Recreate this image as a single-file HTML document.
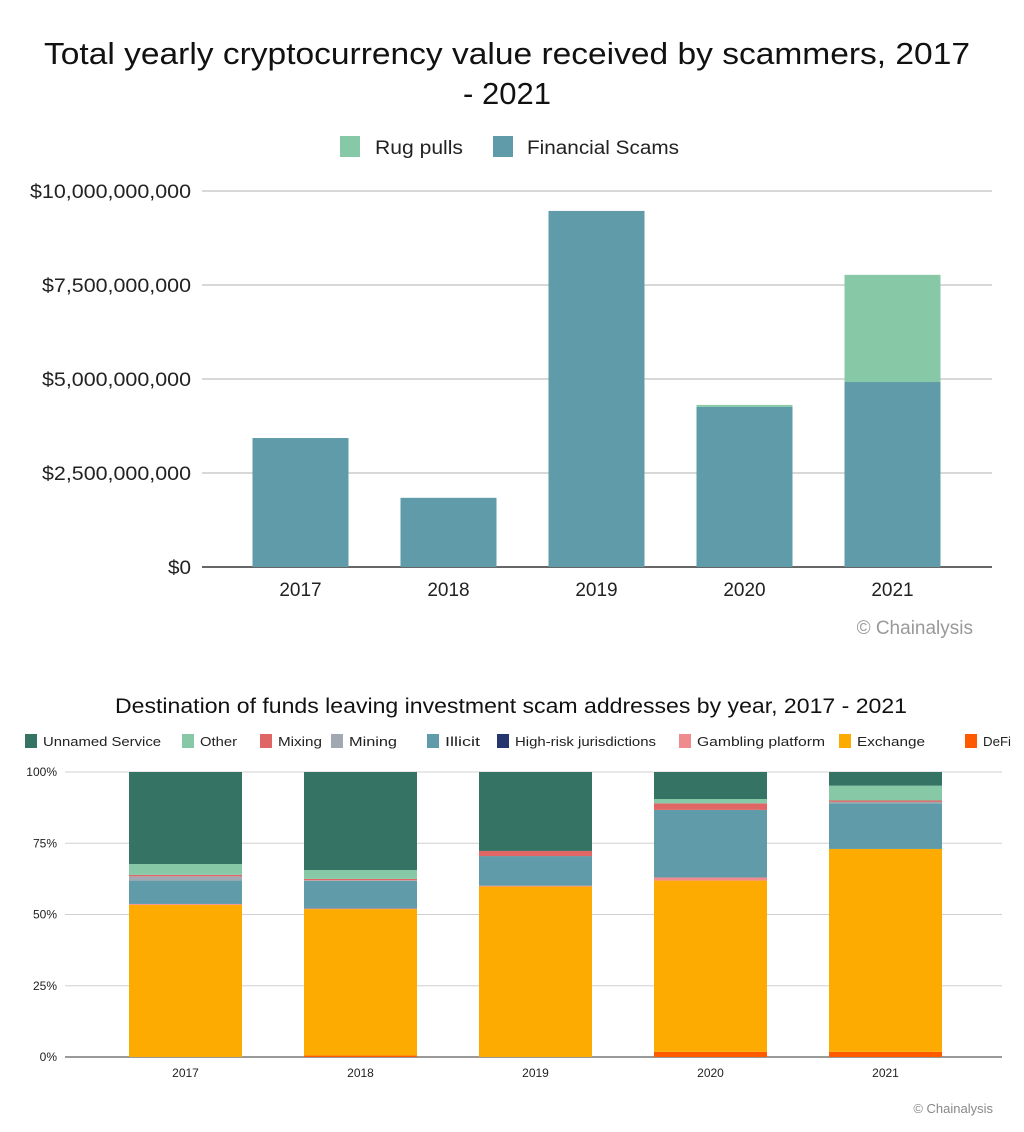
<!DOCTYPE html>
<html><head><meta charset="utf-8"><style>
body{margin:0;background:#fff;width:1024px;height:1132px;overflow:hidden}
svg{display:block;font-family:"Liberation Sans",sans-serif}
</style></head><body>
<svg id="s" width="1024" height="1132">
<g id="top">
<text x="507" y="64" text-anchor="middle" font-size="31" fill="#111" textLength="926" lengthAdjust="spacingAndGlyphs">Total yearly cryptocurrency value received by scammers, 2017</text>
<text x="507" y="104" text-anchor="middle" font-size="31" fill="#111">- 2021</text>
<g><rect x="340" y="136" width="20" height="21" fill="#87c9a6"/><text x="375" y="154" font-size="19" fill="#222" textLength="88" lengthAdjust="spacingAndGlyphs">Rug pulls</text></g>
<g><rect x="493" y="136" width="20" height="21" fill="#5f9ba8"/><text x="527" y="154" font-size="19" fill="#222" textLength="152" lengthAdjust="spacingAndGlyphs">Financial Scams</text></g>
<text x="973" y="634" text-anchor="end" font-size="19" fill="#999">© Chainalysis</text>
</g>
<g id="bot">
<text x="511" y="713" text-anchor="middle" font-size="21" fill="#111" textLength="792" lengthAdjust="spacingAndGlyphs">Destination of funds leaving investment scam addresses by year, 2017 - 2021</text>
<text x="993" y="1113" text-anchor="end" font-size="13" fill="#888">© Chainalysis</text>
</g>
</svg>
<script>
const NS='http://www.w3.org/2000/svg';
function mk(p,t,a){const e=document.createElementNS(NS,t);for(const k in a)e.setAttribute(k,a[k]);p.appendChild(e);return e;}
// ---- top chart data
const topYears=['2017','2018','2019','2020','2021'];
const financialScams=[3.43,1.84,9.47,4.26,4.92];
const rugPulls=[0,0,0,0.05,2.85];
const topTicks=[0,2.5,5,7.5,10];
const topTickLabels=['$0','$2,500,000,000','$5,000,000,000','$7,500,000,000','$10,000,000,000'];
// ---- bottom chart data
const botYears=['2017','2018','2019','2020','2021'];
const seriesNames=['DeFi','Exchange','Gambling platform','High-risk jurisdictions','Illicit','Mining','Mixing','Other','Unnamed Service'];
const seriesColors=['#ff5a00','#fdab00','#ef8a8f','#24356f','#5f9ba8','#a2a8b2','#e06666','#87c9a6','#357365'];
const defi=[0,0.5,0,1.8,1.8];
const exchange=[53.4,51.4,59.8,60.1,71.2];
const gambling=[0.3,0.2,0.3,1.1,0];
const highRisk=[0,0,0,0,0];
const illicit=[8.2,9.7,10.4,23.7,16];
const mining=[1.5,0.2,0,0,0.5];
const mixing=[0.5,0.5,1.8,2.3,0.5];
const other=[3.8,3.1,0,1.5,5.2];
const unnamed=[32.3,34.4,27.7,9.5,4.8];
const botTicks=[0,25,50,75,100];
const botTickLabels=['0%','25%','50%','75%','100%'];
const legendOrder=[8,7,6,5,4,3,2,1,0];

// top chart
const T=document.getElementById('top');
const ty=v=>567-v/10*376;
const tx=i=>300.5+i*148;
topTicks.forEach((t,i)=>{
 const l=mk(T,'line',{x1:202,x2:992,y1:ty(t),y2:ty(t),stroke:i==0?'#333':'#ccc','stroke-width':1.5});
 
 
 const lab=topTickLabels[i];
 const tw=lab.length<=2?23:(lab.length>=15?161:149);
 const tx2=mk(T,'text',{x:191,y:ty(t)+7,'text-anchor':'end','font-size':19,fill:'#222',textLength:tw,lengthAdjust:'spacingAndGlyphs'});
 tx2.textContent=lab;
 
 
});
topYears.forEach((y,i)=>{
 const b=mk(T,'rect',{x:tx(i)-48,y:ty(financialScams[i]),width:96,height:ty(0)-ty(financialScams[i]),fill:'#5f9ba8'});
 
 
 if(rugPulls[i]>0){
  const r=mk(T,'rect',{x:tx(i)-48,y:ty(financialScams[i]+rugPulls[i]),width:96,height:ty(financialScams[i])-ty(financialScams[i]+rugPulls[i]),fill:'#87c9a6'});
  
  
 }
 const l=mk(T,'text',{x:tx(i),y:596,'text-anchor':'middle','font-size':19,fill:'#222'});
 l.textContent=y;
 
 
});

// bottom chart
const B=document.getElementById('bot');
const by=v=>1057-v/100*285;
const bx=i=>185.5+i*175;
botTicks.forEach((t,i)=>{
 const l=mk(B,'line',{x1:65,x2:1002,y1:by(t),y2:by(t),stroke:i==0?'#333':'#d0d0d0','stroke-width':1});
 
 
 const e=mk(B,'text',{x:57,y:by(t)+4,'text-anchor':'end','font-size':12,fill:'#222'});
 e.textContent=botTickLabels[i];
 
 
});
const seriesData=[defi,exchange,gambling,highRisk,illicit,mining,mixing,other,unnamed];
botYears.forEach((y,i)=>{
 let acc=0;
 seriesData.forEach((s,k)=>{
  const v=s[i]; if(v<=0)return;
  const r=mk(B,'rect',{x:bx(i)-56.5,y:by(acc+v),width:113,height:by(acc)-by(acc+v),fill:seriesColors[k]});
  
  
  acc+=v;
 });
 const l=mk(B,'text',{x:bx(i),y:1077,'text-anchor':'middle','font-size':12,fill:'#222'});
 l.textContent=y;
 
 
});
const legX=[25,182,260,331,427,497,679,839,965];
const legW=[118,37,44,48,35,141,128,68,28];
legendOrder.forEach((k,j)=>{
 const g=mk(B,'g',{});
 
 
 mk(g,'rect',{x:legX[j],y:734,width:12,height:14,fill:seriesColors[k]});
 const t=mk(g,'text',{x:legX[j]+18,y:746,'font-size':13,fill:'#222',textLength:legW[j],lengthAdjust:'spacingAndGlyphs'});
 t.textContent=seriesNames[k];
});
</script>
</body></html>
